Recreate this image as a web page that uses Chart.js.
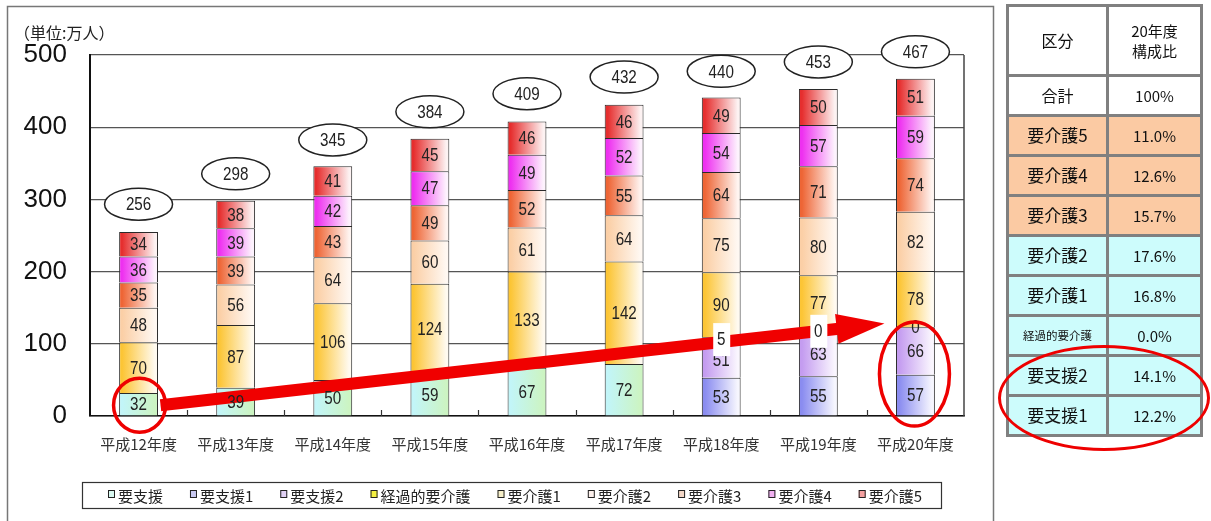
<!DOCTYPE html>
<html><head><meta charset="utf-8">
<script src="https://cdn.jsdelivr.net/npm/chart.js@4/dist/chart.umd.min.js"></script>
<style>
html,body{margin:0;padding:0;background:#fff;width:1211px;height:521px;overflow:hidden;}
#wrap{position:relative;width:1211px;height:521px;}
#c{position:absolute;left:0;top:0;}
#tbl{position:absolute;left:1006px;top:4px;display:grid;grid-template-columns:100px 94px;grid-template-rows:70px repeat(9,40px);border-top:3px solid #808080;border-left:3px solid #808080;font-family:"Noto Sans CJK JP",sans-serif;color:#111;}
#tbl div{box-sizing:border-box;border-right:3px solid #808080;border-bottom:3px solid #808080;display:flex;align-items:center;justify-content:center;text-align:center;font-size:17px;line-height:1.3;}
#tbl .v{font-size:15px;}
#tbl .pe{background:#fbcaa3;}
#tbl .cy{background:#cdfcfc;}
#tbl .sm{font-size:11.5px;}
#oval{position:absolute;left:998px;top:345px;width:206px;height:100px;border:3px solid #ee0000;border-radius:50%;pointer-events:none;}
</style></head>
<body><div id="wrap"><canvas id="c" width="1211" height="521"></canvas><div id="tbl"></div><div id="oval"></div></div>
<script>
// ---- data ----
const categories = ['平成12年度','平成13年度','平成14年度','平成15年度','平成16年度','平成17年度','平成18年度','平成19年度','平成20年度'];
const seriesNames = ['要支援','要支援1','要支援2','経過的要介護','要介護1','要介護2','要介護3','要介護4','要介護5'];
const yoshien  = [32, 39, 50, 59, 67, 72, null, null, null];
const yoshien1 = [null, null, null, null, null, null, 53, 55, 57];
const yoshien2 = [null, null, null, null, null, null, 51, 63, 66];
const keika    = [null, null, null, null, null, null, 5, 0, 0];
const kaigo1   = [70, 87, 106, 124, 133, 142, 90, 77, 78];
const kaigo2   = [48, 56, 64, 60, 61, 64, 75, 80, 82];
const kaigo3   = [35, 39, 43, 49, 52, 55, 64, 71, 74];
const kaigo4   = [36, 39, 42, 47, 49, 52, 54, 57, 59];
const kaigo5   = [34, 38, 41, 45, 46, 46, 49, 50, 51];
const totals   = [256, 298, 345, 384, 409, 432, 440, 453, 467];
const yTicks   = [0, 100, 200, 300, 400, 500];
const unitLabel = '（単位:万人）';
const tableHeader = ['区分', '20年度<br>構成比'];
const tableNames  = ['合計','要介護5','要介護4','要介護3','要介護2','要介護1','経過的要介護','要支援2','要支援1'];
const tableValues = ['100%','11.0%','12.6%','15.7%','17.6%','16.8%','0.0%','14.1%','12.2%'];

// ---- styles ----
const seriesData = [yoshien, yoshien1, yoshien2, keika, kaigo1, kaigo2, kaigo3, kaigo4, kaigo5];
const gradFrom = ['#c2f5f8','#8a8cf0','#c49cf0','#f0f040','#fcc535','#fbcfa6','#ee6535','#ee30f0','#e62e2e'];
const gradTo   = ['#ccf4c2','#f6f6fe','#faf6fe','#fffff2','#fffaf0','#fff8f2','#fff4f0','#fdf2fd','#fdf2f2'];
const legendFill = ['#d8f8f0','#c8c8f0','#e0d0f4','#f4f040','#f6efc8','#fcf0ec','#f2d6c6','#f0b0f0','#f4a0a0'];
const NUMFONT = "'Liberation Sans',Arial,sans-serif";
const CJK = "'Noto Sans CJK JP',sans-serif";
const BAR_PCT = 0.4;

// table
const tbl = document.getElementById('tbl');
let html = '<div style="font-size:16px">'+tableHeader[0]+'</div><div style="font-size:15px">'+tableHeader[1]+'</div>';
tableNames.forEach((n,i)=>{
  const cls = i===0 ? '' : (i<=3 ? 'pe' : 'cy');
  const sm = n.length > 4 ? ' sm' : '';
  html += '<div class="'+cls+sm+'"'+(i===0?' style="font-size:16px"':'')+'>'+n+'</div><div class="v '+cls+'">'+tableValues[i]+'</div>';
});
tbl.innerHTML = html;

function gradFor(idx){
  return (ctx)=>{
    const chart = ctx.chart;
    const xs = chart.scales.x;
    if (!chart.chartArea || !xs || ctx.dataIndex === undefined) return gradFrom[idx];
    const cx = xs.getPixelForValue(ctx.dataIndex);
    const half = xs.width / categories.length * BAR_PCT / 2;
    const g = chart.ctx.createLinearGradient(cx - half, 0, cx + half, 0);
    g.addColorStop(0, gradFrom[idx]);
    g.addColorStop(0.08, gradFrom[idx]);
    g.addColorStop(0.92, gradTo[idx]);
    g.addColorStop(1, gradTo[idx]);
    return g;
  };
}

const datasets = seriesData.map((d,i)=>({
  label: seriesNames[i],
  data: d,
  backgroundColor: gradFor(i),
  borderColor: '#2a2a2a',
  borderWidth: 1,
  borderSkipped: 'start',
  categoryPercentage: 1,
  barPercentage: BAR_PCT,
  stack: 's'
}));

function narrowText(c, txt, x, y, sx){
  c.save(); c.translate(x, y); c.scale(sx, 1); c.fillText(txt, 0, 0); c.restore();
}

const deco = {
  id: 'deco',
  beforeDraw(chart){
    const c = chart.ctx; c.save(); c.fillStyle = '#fff'; c.fillRect(0,0,chart.width,chart.height); c.restore();
  },
  afterDatasetsDraw(chart){
    const c = chart.ctx, xs = chart.scales.x, ys = chart.scales.y, a = chart.chartArea;
    c.save();
    // right border of plot area
    c.strokeStyle = '#444'; c.lineWidth = 1.5;
    c.beginPath(); c.moveTo(a.right, a.top); c.lineTo(a.right, a.bottom); c.stroke();
    // small tick marks between categories
    c.strokeStyle = '#333'; c.lineWidth = 1.2;
    for (let i=1;i<categories.length;i++){
      const x = Math.round((xs.getPixelForValue(i-1)+xs.getPixelForValue(i))/2)+0.5;
      c.beginPath(); c.moveTo(x, a.bottom); c.lineTo(x, a.bottom-6); c.stroke();
    }
    // red arrow (under the label boxes)
    const sx = xs.getPixelForValue(0) + 22, sy = ys.getPixelForValue(15);
    const tx = xs.getPixelForValue(categories.length-1) - 31, ty = ys.getPixelForValue(128);
    const ang = Math.atan2(ty-sy, tx-sx), dx = Math.cos(ang), dy = Math.sin(ang);
    const headLen = 48, headHalf = 15;
    const bx = tx - dx*headLen, by = ty - dy*headLen;
    c.strokeStyle = '#f00000'; c.fillStyle = '#f00000'; c.lineWidth = 12; c.lineCap = 'butt';
    c.beginPath(); c.moveTo(sx, sy); c.lineTo(bx+dx*2, by+dy*2); c.stroke();
    c.beginPath(); c.moveTo(tx, ty); c.lineTo(bx - dy*headHalf, by + dx*headHalf); c.lineTo(bx + dy*headHalf, by - dx*headHalf); c.closePath(); c.fill();
    // segment labels
    c.textAlign = 'center'; c.textBaseline = 'middle';
    c.font = '19px ' + NUMFONT;
    chart.data.datasets.forEach((ds, di)=>{
      const meta = chart.getDatasetMeta(di);
      meta.data.forEach((el, i)=>{
        const v = ds.data[i];
        if (v === null || v === undefined) return;
        const p = el.getProps(['x','y','base'], true);
        const cy = (p.y + p.base)/2;
        if (di === 3 && i < categories.length-1){
          c.fillStyle = '#fff';
          c.fillRect(p.x - 8, cy - 16, 17, 33);
        }
        c.fillStyle = '#222';
        narrowText(c, String(v), p.x, cy + 1, 0.8);
      });
    });
    // total ellipses
    totals.forEach((t,i)=>{
      const x = xs.getPixelForValue(i), y = ys.getPixelForValue(t) - 27;
      c.beginPath(); c.ellipse(x, y, 34, 16, 0, 0, Math.PI*2);
      c.fillStyle = '#fff'; c.fill();
      c.strokeStyle = '#222'; c.lineWidth = 1.5; c.stroke();
      c.fillStyle = '#222'; narrowText(c, String(t), x, y + 1, 0.8);
    });
    // red circles
    c.strokeStyle = '#ee0000'; c.lineWidth = 3.5;
    c.beginPath(); c.ellipse(xs.getPixelForValue(0)+1, ys.getPixelForValue(15), 26, 27, 0, 0, Math.PI*2); c.stroke();
    c.beginPath(); c.ellipse(xs.getPixelForValue(categories.length-1)-1, ys.getPixelForValue(58), 35, 52, 0, 0, Math.PI*2); c.stroke();
    c.restore();
  },
  afterDraw(chart){
    const c = chart.ctx;
    c.save();
    // outer frame
    c.strokeStyle = '#777'; c.lineWidth = 1.5;
    c.strokeRect(7.5, 6.5, 986, 540);
    // unit label
    c.fillStyle = '#222'; c.font = '16px ' + CJK; c.textBaseline = 'middle'; c.textAlign = 'left';
    c.fillText(unitLabel, 14, 33);
    // legend
    const L = {x:82, y:482, w:859, h:26, start:108, end:922};
    c.strokeStyle = '#333'; c.lineWidth = 1.2;
    c.strokeRect(L.x+0.5, L.y+0.5, L.w, L.h);
    c.font = '15px ' + CJK;
    const mk = 8;
    const widths = seriesNames.map(n=>c.measureText(n).width + mk + 2);
    const sum = widths.reduce((s,w)=>s+w,0);
    const gap = (L.end - L.start - sum)/(seriesNames.length-1);
    let x = L.start;
    const cy = L.y + L.h/2 + 1;
    seriesNames.forEach((n,i)=>{
      c.fillStyle = legendFill[i];
      c.fillRect(x, cy-6, 7, 8);
      c.strokeStyle = '#222'; c.lineWidth = 1;
      c.strokeRect(x+0.5, cy-5.5, 6, 7);
      c.fillStyle = '#222';
      c.fillText(n, x + mk + 2, cy);
      x += widths[i] + gap;
    });
    c.restore();
  }
};

new Chart(document.getElementById('c'), {
  type: 'bar',
  data: { labels: categories, datasets },
  options: {
    responsive: false,
    animation: false,
    devicePixelRatio: 1,
    layout: { padding: { left: 0, right: 247, top: 55, bottom: 60 } },
    plugins: { legend: { display: false }, tooltip: { enabled: false } },
    scales: {
      x: {
        stacked: true,
        grid: { display: false, drawTicks: false },
        border: { display: true, color: '#111', width: 1.5 },
        ticks: { padding: 19, color: '#333', font: { family: CJK, size: 15 } },
        afterFit(s){ s.height = 45; }
      },
      y: {
        stacked: true,
        min: 0, max: 500,
        afterBuildTicks(s){ s.ticks = yTicks.map(v=>({value:v})); },
        grid: { color: '#555', lineWidth: 1.2, drawTicks: false },
        border: { display: true, color: '#111', width: 2 },
        ticks: { padding: 23, color: '#111', font: { family: "'Liberation Sans',Arial,sans-serif", size: 26 } },
        afterFit(s){ s.width = 90; }
      }
    }
  },
  plugins: [deco]
});
</script>
</body></html>
